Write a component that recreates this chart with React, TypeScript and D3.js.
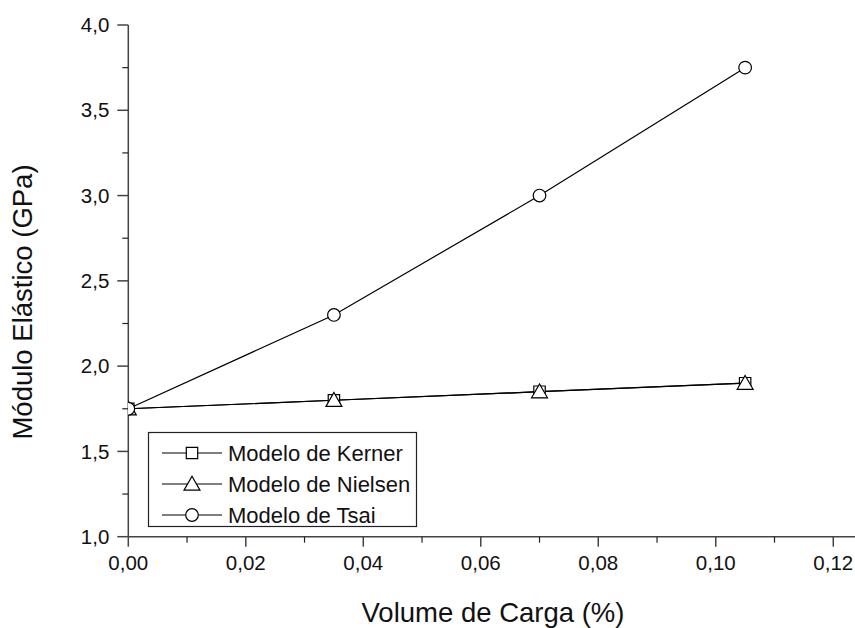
import React, { useEffect, useRef } from 'react';
import * as d3 from 'd3';

// data
const volume = [0, 0.035, 0.07, 0.105];
const kerner = [1.75, 1.8, 1.85, 1.9];
const nielsen = [1.75, 1.8, 1.85, 1.9];
const tsai = [1.75, 2.3, 3.0, 3.75];

const xTicks = [0, 0.02, 0.04, 0.06, 0.08, 0.1, 0.12];
const xMinor = [0.01, 0.03, 0.05, 0.07, 0.09, 0.11];
const yTicks = [1.0, 1.5, 2.0, 2.5, 3.0, 3.5, 4.0];
const yMinor = [1.25, 1.75, 2.25, 2.75, 3.25, 3.75];

const seriesNames = ['Modelo de Kerner', 'Modelo de Nielsen', 'Modelo de Tsai'];
const seriesValues = [kerner, nielsen, tsai];
const seriesSymbols = [d3.symbolSquare, d3.symbolTriangle, d3.symbolCircle];

const W = 855;
const H = 628;
const FONT = '"Liberation Sans", Arial, sans-serif';
const fmt = (d: number, n: number) => d.toFixed(n).replace('.', ',');

export default function App() {
  const svgRef = useRef<SVGSVGElement>(null);

  useEffect(() => {
    if (!svgRef.current) return;
    const svg = d3.select(svgRef.current);
    svg.selectAll('*').remove();

    // axis runs past 0,12 to the right edge
    const x = d3.scaleLinear().domain([0, 0.1237]).range([128.3, 855]);
    const y = d3.scaleLinear().domain([1, 4]).range([536.7, 25]);

    svg.append('defs').append('clipPath').attr('id', 'plot-clip')
      .append('rect')
      .attr('x', x(0)).attr('y', 0)
      .attr('width', W - x(0)).attr('height', y(1));

    const axisColor = '#444';

    // x axis
    const gx = svg.append('g').attr('transform', `translate(0,${y(1)})`);
    gx.append('line').attr('x1', x(0)).attr('x2', W)
      .attr('stroke', axisColor).attr('stroke-width', 1.5);
    gx.selectAll('line.maj').data(xTicks).enter().append('line')
      .attr('x1', d => x(d)).attr('x2', d => x(d)).attr('y1', 0).attr('y2', 10)
      .attr('stroke', axisColor).attr('stroke-width', 1.5);
    gx.selectAll('line.min').data(xMinor).enter().append('line')
      .attr('x1', d => x(d)).attr('x2', d => x(d)).attr('y1', 0).attr('y2', 6)
      .attr('stroke', '#222').attr('stroke-width', 1.2);
    gx.selectAll('text').data(xTicks).enter().append('text')
      .attr('x', d => x(d)).attr('y', 33.5)
      .attr('text-anchor', 'middle')
      .style('font-family', FONT).style('font-size', '20.5px').attr('fill', '#111')
      .text(d => fmt(d, 2));

    // y axis
    const gy = svg.append('g').attr('transform', `translate(${x(0)},0)`);
    gy.append('line').attr('y1', y(4)).attr('y2', y(1))
      .attr('stroke', axisColor).attr('stroke-width', 1.5);
    gy.selectAll('line.maj').data(yTicks).enter().append('line')
      .attr('y1', d => y(d)).attr('y2', d => y(d)).attr('x1', 0).attr('x2', -11)
      .attr('stroke', axisColor).attr('stroke-width', 1.5);
    gy.selectAll('line.min').data(yMinor).enter().append('line')
      .attr('y1', d => y(d)).attr('y2', d => y(d)).attr('x1', 0).attr('x2', -6)
      .attr('stroke', '#222').attr('stroke-width', 1.2);
    gy.selectAll('text').data(yTicks).enter().append('text')
      .attr('x', -19).attr('y', d => y(d)).attr('dy', '0.35em')
      .attr('text-anchor', 'end')
      .style('font-family', FONT).style('font-size', '20.5px').attr('fill', '#111')
      .text(d => fmt(d, 1));

    // axis titles
    svg.append('text')
      .attr('x', 493).attr('y', 622)
      .attr('text-anchor', 'middle')
      .style('font-family', FONT).style('font-size', '27.5px').attr('fill', '#111')
      .text('Volume de Carga (%)');
    svg.append('text')
      .attr('transform', 'translate(32,302) rotate(-90)')
      .attr('text-anchor', 'middle')
      .style('font-family', FONT).style('font-size', '27.5px').attr('fill', '#111')
      .text('Módulo Elástico (GPa)');

    // series
    const line = d3.line<number>().x((_, i) => x(volume[i])).y(d => y(d));
    const plot = svg.append('g').attr('clip-path', 'url(#plot-clip)');
    const symSize = [130, 110, 125];

    seriesValues.forEach((vals) => {
      plot.append('path').attr('d', line(vals))
        .attr('fill', 'none').attr('stroke', '#000').attr('stroke-width', 1.2);
    });
    seriesValues.forEach((vals, s) => {
      const sym = d3.symbol().type(seriesSymbols[s]).size(symSize[s]);
      plot.selectAll(`path.m${s}`).data(vals).enter().append('path')
        .attr('d', sym)
        .attr('transform', (d, i) => `translate(${x(volume[i])},${y(d) + (s === 1 ? 1.5 : 0)})`)
        .attr('fill', '#fff').attr('stroke', '#000').attr('stroke-width', 1.2);
    });

    // legend
    const lg = svg.append('g');
    lg.append('rect').attr('x', 148.5).attr('y', 432.5).attr('width', 268).attr('height', 94)
      .attr('fill', '#fff').attr('stroke', '#222').attr('stroke-width', 1.2);
    const rowY = [453, 484, 515];
    seriesNames.forEach((name, s) => {
      const ry = rowY[s];
      lg.append('line').attr('x1', 162).attr('x2', 222).attr('y1', ry).attr('y2', ry)
        .attr('stroke', '#000').attr('stroke-width', 1.2);
      lg.append('path').attr('d', d3.symbol().type(seriesSymbols[s]).size(symSize[s])())
        .attr('transform', `translate(192,${ry + (s === 1 ? 1.5 : 0)})`)
        .attr('fill', '#fff').attr('stroke', '#000').attr('stroke-width', 1.2);
      lg.append('text').attr('x', 228).attr('y', ry).attr('dy', '0.36em')
        .style('font-family', FONT).style('font-size', '22px').attr('fill', '#111')
        .text(name);
    });
  }, []);

  return (
    <svg ref={svgRef} width={W} height={H} viewBox={`0 0 ${W} ${H}`}
      style={{ position: 'absolute', left: 0, top: 0, background: '#fff' }} />
  );
}
